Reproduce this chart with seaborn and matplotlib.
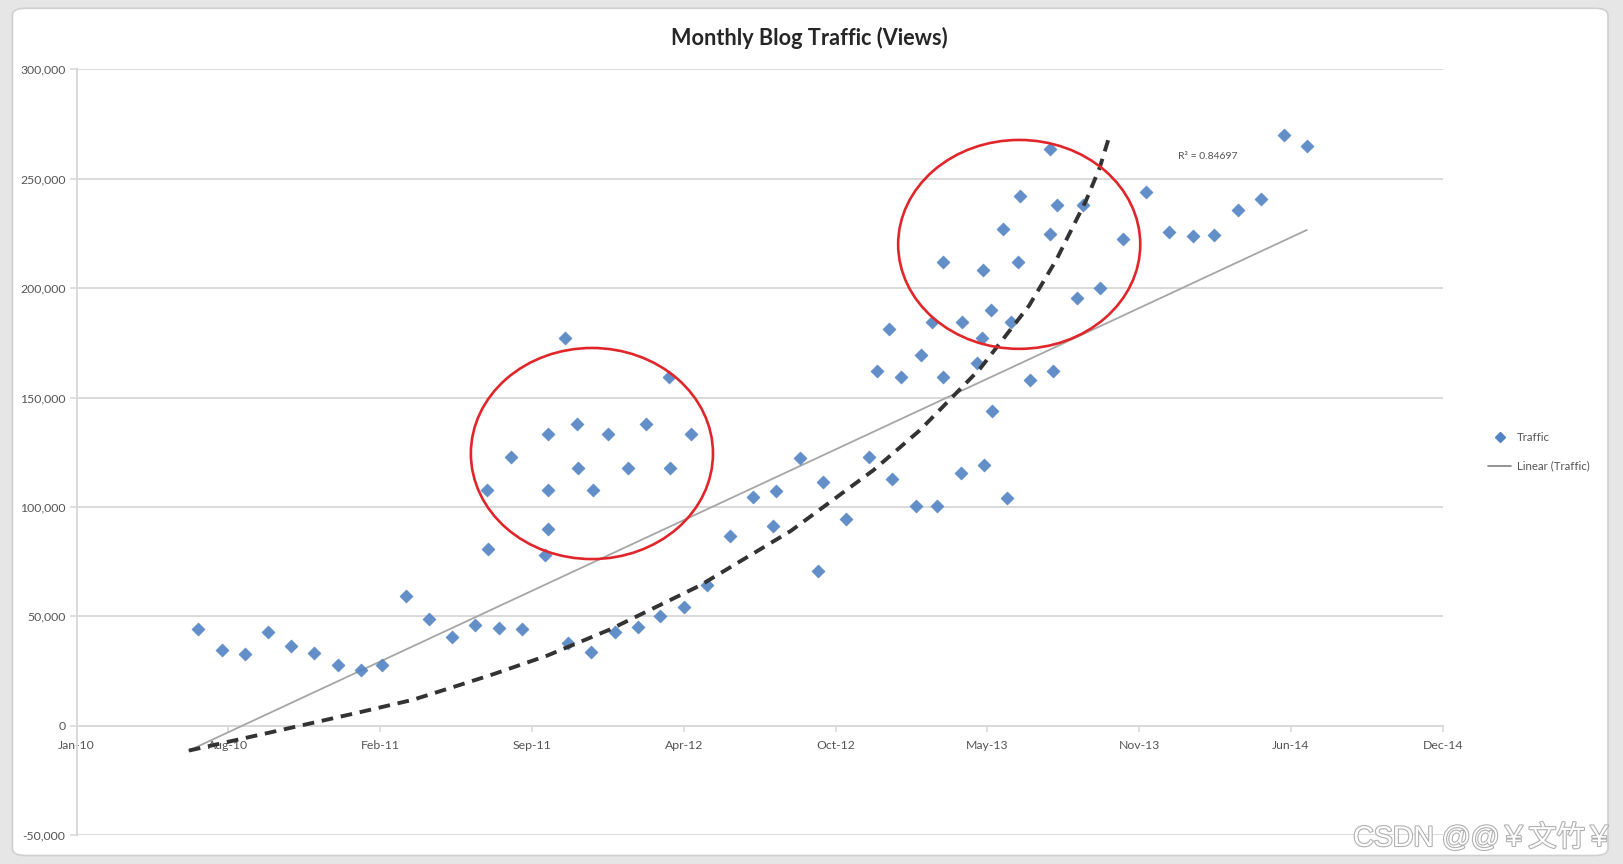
import numpy as np
import pandas as pd
import matplotlib
matplotlib.use("Agg")
import matplotlib.pyplot as plt
import matplotlib.dates as mdates
import matplotlib.patheffects as pe
from matplotlib.patches import Ellipse, FancyBboxPatch
from matplotlib.lines import Line2D
import seaborn as sns

# ---------------- data ----------------
title = "Monthly Blog Traffic (Views)"

traffic_dates = [
    "2010-07-01", "2010-08-01", "2010-09-01", "2010-10-01", "2010-11-01", "2010-12-01",
    "2011-01-01", "2011-02-01", "2011-03-01", "2011-04-01", "2011-05-01", "2011-06-01",
    "2011-07-01", "2011-07-17", "2011-07-18", "2011-08-01", "2011-08-17", "2011-09-01",
    "2011-10-01", "2011-10-05", "2011-10-05", "2011-10-05", "2011-10-28", "2011-11-01",
    "2011-11-12", "2011-11-13", "2011-12-01", "2011-12-04", "2011-12-23", "2012-01-01",
    "2012-01-18", "2012-02-01", "2012-02-11", "2012-03-01", "2012-03-12", "2012-03-14",
    "2012-04-01", "2012-04-10", "2012-05-01", "2012-06-01", "2012-07-01", "2012-07-28",
    "2012-08-01", "2012-09-01", "2012-09-25", "2012-10-01", "2012-11-01", "2012-12-01",
    "2012-12-12", "2012-12-28", "2013-01-01", "2013-01-12", "2013-02-01", "2013-02-08",
    "2013-02-22", "2013-03-01", "2013-03-08", "2013-03-09", "2013-04-01", "2013-04-03",
    "2013-04-22", "2013-04-29", "2013-04-30", "2013-05-01", "2013-05-11", "2013-05-12",
    "2013-05-27", "2013-06-01", "2013-06-06", "2013-06-15", "2013-06-18", "2013-07-01",
    "2013-07-28", "2013-07-28", "2013-08-01", "2013-08-06", "2013-09-01", "2013-09-09",
    "2013-10-01", "2013-11-01", "2013-12-01", "2014-01-01", "2014-02-01", "2014-03-01",
    "2014-04-01", "2014-05-01", "2014-06-01", "2014-07-01",
]
traffic_views = [
    44000, 34500, 32600, 42600, 36400, 33100,
    27900, 25500, 27900, 59100, 48700, 40700,
    45900, 107900, 80900, 44500, 123000, 44000,
    78000, 133400, 107900, 89900, 177000, 37800,
    138000, 117800, 33600, 107900, 133400, 42600,
    117800, 44900, 138000, 50100, 159400, 117800,
    54400, 133400, 64300, 86600, 104500, 91300,
    107400, 122500, 70500, 111600, 94600, 123000,
    162200, 181200, 112600, 159400, 100300, 169300,
    184500, 100300, 159400, 211900, 115400, 184500,
    165600, 177000, 208100, 119200, 190200, 143800,
    227100, 104100, 184500, 211900, 242200, 158000,
    263500, 224700, 162200, 237900, 195400, 237900,
    200100, 222300, 244100, 225600, 223700, 224200,
    235600, 240800, 270100, 264900,
]

# linear trendline (Excel), end values
linear_dates = ["2010-06-19", "2014-07-01"]
linear_values = [-11400, 226600]

# hand-drawn dashed growth curve
curve_dates = ["2010-06-19", "2010-10-12", "2011-01-26", "2011-04-10", "2011-06-01",
               "2011-07-25", "2011-10-04", "2011-12-26", "2012-04-22", "2012-08-20",
               "2012-12-07", "2013-02-06", "2013-04-26", "2013-06-30", "2013-08-05",
               "2013-09-13", "2013-10-01", "2013-10-15"]
curve_values = [-11400, -2500, 5800, 11800, 17500,
                23500, 32000, 44000, 64000, 89000,
                116800, 135000, 163000, 192000, 213000,
                240000, 255000, 270800]

r2_text = "R² = 0.84697"

x_tick_dates = ["2010-01-22", "2010-08-10", "2011-02-26", "2011-09-14", "2012-04-01",
                "2012-10-18", "2013-05-06", "2013-11-22", "2014-06-10", "2014-12-27"]
x_tick_labels = ["Jan-10", "Aug-10", "Feb-11", "Sep-11", "Apr-12",
                 "Oct-12", "May-13", "Nov-13", "Jun-14", "Dec-14"]
y_ticks = [-50000, 0, 50000, 100000, 150000, 200000, 250000, 300000]
y_tick_labels = ["-50,000", "0", "50,000", "100,000", "150,000", "200,000", "250,000", "300,000"]

# highlighted clusters (centre date, centre value, width days, height value)
circle_centres = [("2011-12-02", 124400), ("2013-06-17", 220000)]
circle_width_days = 319
circle_heights = [96500, 95500]

watermark = "CSDN @@￥文竹￥"

# ---------------- style ----------------
sns.set_theme(style="white")
plt.rcParams["font.family"] = ["Lato", "DejaVu Sans"]

W, H = 1624, 864
fig = plt.figure(figsize=(W / 100, H / 100), dpi=100)
fig.patch.set_facecolor("#e6e6e6")

# card background (screenshot frame)
card = FancyBboxPatch((12.4 / W, 1 - 855.5 / H), (1608 - 12.4) / W, (855.5 - 8.3) / H,
                      boxstyle="round,pad=0,rounding_size=0.008", transform=fig.transFigure,
                      facecolor="white", edgecolor="#cfcfcf", linewidth=1.2, zorder=-5)
fig.patches.append(card)

ax = fig.add_axes([76.6 / W, 1 - 835 / H, (1442.7 - 76.6) / W, (835 - 69.4) / H])
ax.set_zorder(1)
ax.set_facecolor("none")

df = pd.DataFrame({"date": pd.to_datetime(traffic_dates), "views": traffic_views})
lin = pd.DataFrame({"date": pd.to_datetime(linear_dates), "views": linear_values})
cur = pd.DataFrame({"date": pd.to_datetime(curve_dates), "views": curve_values})

grid_c = "#d9d9d9"
blue = "#5283c4"

sns.lineplot(data=lin, x="date", y="views", ax=ax, color="#a6a6a6", linewidth=1.3,
             zorder=3, legend=False)
sns.scatterplot(data=df, x="date", y="views", ax=ax, marker="D", s=46, color=blue,
                edgecolor=blue, linewidth=0.3, alpha=0.9, zorder=4, legend=False)
ax.plot(cur["date"], cur["views"], color="#333333", linewidth=2.8,
        dashes=(3.0, 2.0), zorder=5, dash_capstyle="butt", solid_joinstyle="round")

for (cd, cv), h in zip(circle_centres, circle_heights):
    e = Ellipse((mdates.date2num(pd.Timestamp(cd)), cv), circle_width_days, h,
                facecolor="none", edgecolor="#e0262a", linewidth=1.9, zorder=6)
    ax.add_patch(e)

ax.text(pd.Timestamp("2014-02-20"), 260200, r2_text, fontsize=7.5, color="#555555",
        ha="center", va="center", zorder=7)

# axes
ax.set_xlim(pd.Timestamp(x_tick_dates[0]), pd.Timestamp(x_tick_dates[-1]))
ax.set_ylim(y_ticks[0], y_ticks[-1])
ax.set_xticks(pd.to_datetime(x_tick_dates))
ax.set_xticklabels(x_tick_labels)
ax.set_yticks(y_ticks)
ax.set_yticklabels(y_tick_labels)
ax.set_xlabel("")
ax.set_ylabel("")

ax.yaxis.grid(True, color=grid_c, linewidth=1.4, zorder=0)
ax.xaxis.grid(False)
ax.set_axisbelow(True)
for s in ["top", "right"]:
    ax.spines[s].set_visible(False)
ax.spines["left"].set_color(grid_c)
ax.spines["left"].set_linewidth(1.4)
ax.spines["bottom"].set_position(("data", 0))
ax.spines["bottom"].set_color(grid_c)
ax.spines["bottom"].set_linewidth(1.4)

ax.tick_params(axis="y", which="major", length=5, width=1.2, color=grid_c, pad=3,
               labelsize=8.8, labelcolor="#555555", left=True)
ax.tick_params(axis="x", which="major", length=4, width=1.2, color=grid_c, pad=6,
               labelsize=8.8, labelcolor="#555555", bottom=True, direction="out")

# title
fig.text(809 / W, 1 - 38 / H, title, ha="center", va="center", fontsize=15.6,
         fontweight="bold", color="#262626")

# legend
handles = [
    Line2D([], [], marker="D", linestyle="none", color=blue, markersize=5),
    Line2D([], [], color="#7f7f7f", linewidth=1.2),
]
fig.legend(handles, ["Traffic", "Linear (Traffic)"], loc="center left",
           bbox_to_anchor=(1478 / W, 1 - 452 / H), frameon=False, fontsize=8.3,
           handlelength=2.0, handletextpad=0.5, labelspacing=1.5, labelcolor="#555555")

# watermark
fig.text(1614 / W, 1 - 846 / H, watermark, ha="right", va="baseline", fontsize=20.5,
         color="white", family=["Liberation Sans", "Noto Sans CJK SC"],
         path_effects=[pe.withStroke(linewidth=1.6, foreground="#b0b0b0")], zorder=10)

fig.savefig("out.png", dpi=100, facecolor=fig.get_facecolor())
